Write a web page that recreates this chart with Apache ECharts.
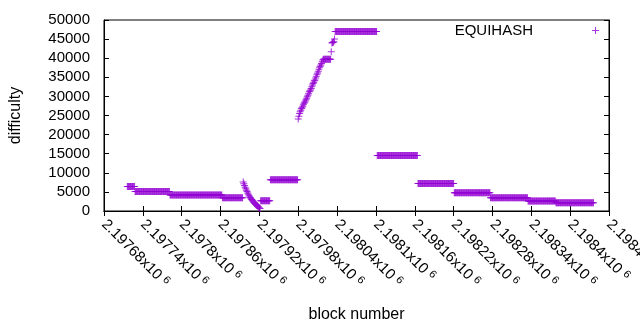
<!DOCTYPE html>
<html>
<head>
<meta charset="utf-8">
<script type="text/javascript" src="https://cdn.jsdelivr.net/npm/echarts/dist/echarts.min.js"></script>
<style type="text/css">
body{margin:0;background:#fff;}
#chart{width:640px;height:330px;}
</style>
</head>
<body>
<div id="chart"></div>
<script type="text/javascript">
// flat stretches: first block, last block, difficulty
var runStart = [2197716, 2197728, 2197782, 2197863, 2197922, 2197937, 2198037, 2198102, 2198165, 2198221, 2198277, 2198335, 2198378];
var runEnd   = [2197727, 2197781, 2197862, 2197894, 2197936, 2197979, 2198101, 2198164, 2198220, 2198276, 2198334, 2198377, 2198436];
var runValue = [6400, 5100, 4200, 3500, 2700, 8200, 47000, 14500, 7200, 4800, 3450, 2650, 2150];

// the drop after 2197895, one value per block
var dropStart = 2197895;
var dropValues = [7600, 7150, 6700, 6250, 5850, 5430, 5080, 4720, 4380, 4020, 3670, 3450, 3230, 3020,
    2800, 2590, 2370, 2160, 1940, 1780, 1620, 1450, 1290, 1120, 960, 800, 630];

// the climb after 2197980, one value per block
var riseStart = 2197980;
var riseValues = [24100, 24800, 25500, 26000, 26400, 26800, 27000, 27400, 27800, 28200, 28500, 28800,
    29100, 29500, 29900, 30300, 30700, 31200, 31400, 31700, 32100, 32500, 33000, 33400, 33700, 34100,
    34300, 34800, 35300, 35800, 36100, 36600, 37100, 37600, 37900, 38200, 38600, 39100, 39500,
    39700, 39700, 39700, 39700, 39700, 39700, 39700, 39700, 39700, 39700, 39700, 39700,
    41700, 44000, 44100, 44200, 44300, 45000];

var xMin = 2197680, xMax = 2198460, xStep = 60;
var yTicks = [0, 5000, 10000, 15000, 20000, 25000, 30000, 35000, 40000, 45000, 50000];

var points = [];
for (var r = 0; r < runStart.length; r++) {
    for (var b = runStart[r]; b <= runEnd[r]; b++) points.push([b, runValue[r]]);
}
for (var i = 0; i < dropValues.length; i++) points.push([dropStart + i, dropValues[i]]);
for (var j = 0; j < riseValues.length; j++) points.push([riseStart + j, riseValues[j]]);

var plus = 'path://M3,0H4V3H7V4H4V7H3V4H0V3H3Z';
var purple = '#9400d3';
var font = '"Liberation Sans", Arial, sans-serif';

var chart = echarts.init(document.getElementById('chart'));
var option = {
    animation: false,
    textStyle: {fontFamily: font},
    grid: {left: 104, right: 31, top: 20, bottom: 119, containLabel: false, outerBoundsMode: 'none',
        show: true, borderColor: '#000', borderWidth: 1},
    legend: {
        right: 41, top: 23, padding: 0, align: 'right',
        itemWidth: 7, itemHeight: 7,
        icon: plus,
        textStyle: {fontSize: 15, color: '#000', fontFamily: font, padding: [0, 54, 0, 0]},
        data: ['EQUIHASH']
    },
    xAxis: [{
        type: 'value', min: xMin, max: xMax, interval: xStep,
        name: 'block number', nameLocation: 'middle', nameGap: 96,
        nameTextStyle: {fontSize: 16, color: '#000'},
        axisLine: {lineStyle: {color: '#000'}},
        axisTick: {inside: true, length: 5, lineStyle: {color: '#000'}},
        splitLine: {show: false},
        axisLabel: {
            rotate: -45, margin: 11, fontSize: 15, color: '#000',
            showMinLabel: true, showMaxLabel: true,
            formatter: function (v) { return parseFloat((v / 1e6).toFixed(5)) + 'x10{s|6}'; },
            rich: {s: {fontSize: 11, color: '#000', padding: [0, 0, 6, 4]}}
        }
    }, {
        type: 'value', position: 'top', min: xMin, max: xMax, interval: xStep,
        axisLine: {lineStyle: {color: '#000'}},
        axisTick: {inside: true, length: 5, lineStyle: {color: '#000'}},
        axisLabel: {show: false}, splitLine: {show: false}
    }],
    yAxis: [{
        type: 'value', min: yTicks[0], max: yTicks[yTicks.length - 1], interval: 5000,
        name: 'difficulty', nameLocation: 'middle', nameGap: 80, nameRotate: 90,
        nameTextStyle: {fontSize: 16, color: '#000'},
        axisLine: {show: true, lineStyle: {color: '#000'}},
        axisTick: {show: true, inside: true, length: 5, lineStyle: {color: '#000'}},
        splitLine: {show: false},
        axisLabel: {margin: 14, fontSize: 15, color: '#000', formatter: function (v) { return String(v); }}
    }, {
        type: 'value', position: 'right', min: yTicks[0], max: yTicks[yTicks.length - 1], interval: 5000,
        axisLine: {show: true, lineStyle: {color: '#000'}},
        axisTick: {show: true, inside: true, length: 5, lineStyle: {color: '#000'}},
        axisLabel: {show: false}, splitLine: {show: false}
    }],
    series: [{
        name: 'EQUIHASH',
        type: 'scatter',
        symbol: plus,
        symbolSize: 7,
        itemStyle: {color: purple},
        data: points
    }]
};
chart.setOption(option);
</script>
</body>
</html>
